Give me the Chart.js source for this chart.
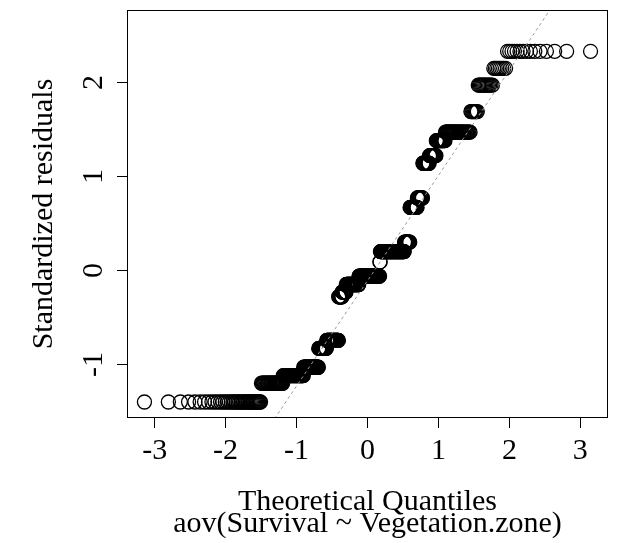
<!DOCTYPE html>
<html>
<head>
<meta charset="utf-8">
<script src="https://cdn.jsdelivr.net/npm/chart.js@4.4.1/dist/chart.umd.min.js"></script>
<style>
  html, body { margin: 0; padding: 0; background: #fff; }
  #chart { display: block; }
</style>
</head>
<body>
<canvas id="chart" width="625" height="543"></canvas>
<script>
// sorted standardized residuals, as value levels and how many residuals sit on each
const residLevels = [-1.40, -1.20, -1.12, -1.03, -0.83, -0.745, -0.28, -0.23, -0.15, -0.06,
  0.09, 0.20, 0.30, 0.67, 0.77, 1.14, 1.22, 1.38, 1.47, 1.69, 1.97, 2.15, 2.33];
const residCounts = [40, 30, 40, 37, 22, 36, 11, 13, 42, 70,
  2, 76, 16, 20, 14, 16, 15, 18, 38, 8, 13, 8, 15];

const xTicks = [-3, -2, -1, 0, 1, 2, 3];
const yTicks = [-1, 0, 1, 2];
const xLimits = [-3.39, 3.39];
const yLimits = [-1.57, 2.77];

// qqline
const lineIntercept = -0.11;
const lineSlope = 1.12;

const xTitle = 'Theoretical Quantiles';
const subTitle = 'aov(Survival ~ Vegetation.zone)';
const yTitle = 'Standardized residuals';

const FONT = 'Liberation Serif, Times New Roman, serif';

// inverse normal cdf (Acklam), used for the theoretical quantiles like qqnorm()
function qnorm(p) {
  const a = [-3.969683028665376e+01, 2.209460984245205e+02, -2.759285104469687e+02,
    1.383577518672690e+02, -3.066479806614716e+01, 2.506628277459239e+00];
  const b = [-5.447609879822406e+01, 1.615858368580409e+02, -1.556989798598866e+02,
    6.680131188771972e+01, -1.328068155288572e+01];
  const c = [-7.784894002430293e-03, -3.223964580411365e-01, -2.400758277161838e+00,
    -2.549732539343734e+00, 4.374664141464968e+00, 2.938163982698783e+00];
  const d = [7.784695709041462e-03, 3.224671290700398e-01, 2.445134137142996e+00,
    3.754408661907416e+00];
  const pl = 0.02425;
  if (p < pl) {
    const q = Math.sqrt(-2 * Math.log(p));
    return (((((c[0] * q + c[1]) * q + c[2]) * q + c[3]) * q + c[4]) * q + c[5]) /
      ((((d[0] * q + d[1]) * q + d[2]) * q + d[3]) * q + 1);
  }
  if (p > 1 - pl) {
    const q = Math.sqrt(-2 * Math.log(1 - p));
    return -(((((c[0] * q + c[1]) * q + c[2]) * q + c[3]) * q + c[4]) * q + c[5]) /
      ((((d[0] * q + d[1]) * q + d[2]) * q + d[3]) * q + 1);
  }
  const q = p - 0.5;
  const r = q * q;
  return (((((a[0] * r + a[1]) * r + a[2]) * r + a[3]) * r + a[4]) * r + a[5]) * q /
    (((((b[0] * r + b[1]) * r + b[2]) * r + b[3]) * r + b[4]) * r + 1);
}

const residuals = [];
residLevels.forEach((v, i) => {
  for (let k = 0; k < residCounts[i]; k++) residuals.push(v);
});
const n = residuals.length;
const qqPoints = residuals.map((y, i) => ({ x: qnorm((i + 0.5) / n), y: y }));
const linePoints = xLimits.map((x) => ({ x: x, y: lineIntercept + lineSlope * x }));

const rPlot = {
  id: 'rPlot',
  afterDraw(chart) {
    const ctx = chart.ctx;
    const area = chart.chartArea;
    const yScale = chart.scales.y;
    ctx.save();
    ctx.strokeStyle = '#000';
    ctx.lineWidth = 1;
    ctx.strokeRect(area.left + 0.5, area.top + 0.5, area.right - area.left - 1, area.bottom - area.top - 1);

    ctx.fillStyle = '#000';
    ctx.font = '30px ' + FONT;
    ctx.textAlign = 'center';
    ctx.textBaseline = 'alphabetic';

    // y tick labels, rotated like R's las = 0
    yTicks.forEach((v) => {
      const py = yScale.getPixelForValue(v);
      ctx.save();
      ctx.translate(102, py);
      ctx.rotate(-Math.PI / 2);
      ctx.fillText(String(v), 0, 0);
      ctx.restore();
    });

    ctx.save();
    ctx.translate(52, (area.top + area.bottom) / 2);
    ctx.rotate(-Math.PI / 2);
    ctx.fillText(yTitle, 0, 0);
    ctx.restore();

    const cx = (area.left + area.right) / 2;
    ctx.fillText(xTitle, cx, 510);
    ctx.fillText(subTitle, cx, 532);
    ctx.restore();
  }
};

new Chart(document.getElementById('chart'), {
  type: 'scatter',
  data: {
    datasets: [
      {
        type: 'line',
        data: linePoints,
        borderColor: '#999',
        borderWidth: 1,
        borderDash: [3, 3],
        pointRadius: 0,
        fill: false,
        order: 0,
      },
      {
        data: qqPoints,
        pointStyle: 'circle',
        pointRadius: 7,
        pointBorderWidth: 1.3,
        pointBorderColor: '#000',
        pointBackgroundColor: 'rgba(0,0,0,0)',
        order: 1,
      },
    ],
  },
  options: {
    responsive: false,
    animation: false,
    devicePixelRatio: 1,
    layout: { padding: { top: 10, right: 17, left: 0, bottom: 0 } },
    plugins: { legend: { display: false }, tooltip: { enabled: false } },
    scales: {
      x: {
        type: 'linear',
        min: xLimits[0],
        max: xLimits[1],
        afterBuildTicks: (s) => { s.ticks = xTicks.map((v) => ({ value: v })); },
        afterFit: (s) => { s.height = 125; },
        border: { display: false },
        grid: { drawOnChartArea: false, drawTicks: true, tickLength: 10, color: '#000' },
        ticks: {
          color: '#000',
          font: { family: FONT, size: 30 },
          padding: 5,
          maxRotation: 0,
          autoSkip: false,
          callback: (v) => String(v),
        },
      },
      y: {
        type: 'linear',
        min: yLimits[0],
        max: yLimits[1],
        afterBuildTicks: (s) => { s.ticks = yTicks.map((v) => ({ value: v })); },
        afterFit: (s) => { s.width = 127; },
        border: { display: false },
        grid: { drawOnChartArea: false, drawTicks: true, tickLength: 10, color: '#000' },
        ticks: { display: false },
      },
    },
  },
  plugins: [rPlot],
});
</script>
</body>
</html>
